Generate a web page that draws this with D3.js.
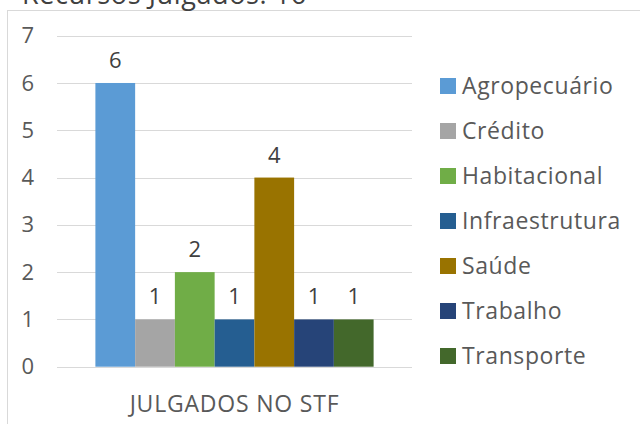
<!DOCTYPE html>
<html>
<head>
<meta charset="utf-8">
<script src="https://cdn.jsdelivr.net/npm/d3@7"></script>
<style>
  html, body { margin: 0; padding: 0; background: #fff; }
  svg { display: block; font-family: "Open Sans", sans-serif; }
</style>
</head>
<body>
<div id="showBox"></div>
<script>
// chart data
const title = "Recursos Julgados: 16"
const categories = ["JULGADOS NO STF"]
const seriesNames = ["Agropecuário", "Crédito", "Habitacional", "Infraestrutura", "Saúde", "Trabalho", "Transporte"]
const seriesValues = [6, 1, 2, 1, 4, 1, 1]
const seriesColors = ["#5b9bd5", "#a5a5a5", "#70ad47", "#255e91", "#997300", "#264478", "#43682b"]
const yTicks = [0, 1, 2, 3, 4, 5, 6, 7]

const width = 640, height = 424
const plot = {left: 57, right: 412, top: 35.7, bottom: 366.7}

const svg = d3.select("#showBox").append("svg")
    .attr("width", width)
    .attr("height", height)

// chart frame
svg.append("rect")
    .attr("x", 7.5).attr("y", 10.5)
    .attr("width", 700).attr("height", 500)
    .attr("fill", "#fff")
    .attr("stroke", "#d9d9d9")

svg.append("text")
    .attr("x", 22).attr("y", 4)
    .attr("fill", "#404040")
    .style("font-size", "27px")
    .style("letter-spacing", "0.6px")
    .text(title)

const y = d3.scaleLinear().domain([0, 7]).range([plot.bottom, plot.top])
const x0 = d3.scaleBand().domain(categories).range([plot.left, plot.right]).paddingOuter(0.138)
const x1 = d3.scaleBand().domain(seriesNames).range([0, x0.bandwidth()])

// grid
svg.append("g").selectAll("line")
    .data(yTicks)
    .join("line")
    .attr("x1", plot.left).attr("x2", plot.right)
    .attr("y1", d => Math.round(y(d)) + 0.5).attr("y2", d => Math.round(y(d)) + 0.5)
    .attr("stroke", "#d9d9d9")

const yAxis = svg.append("g")
    .attr("transform", `translate(${plot.left},0)`)
    .call(d3.axisLeft(y).tickValues(yTicks).tickFormat(d3.format("d")).tickSize(0).tickPadding(23))
yAxis.select(".domain").remove()
yAxis.selectAll("text")
    .attr("fill", "#595959")
    .style("font-size", "22px")
    .style("font-family", "Open Sans, sans-serif")

const xAxis = svg.append("g")
    .attr("transform", `translate(0,${plot.bottom})`)
    .call(d3.axisBottom(x0).tickSize(0).tickPadding(29))
xAxis.select(".domain").remove()
xAxis.selectAll("text")
    .attr("fill", "#595959")
    .style("font-size", "23px")
    .style("letter-spacing", "0.8px")
    .style("font-family", "Open Sans, sans-serif")

const group = svg.append("g")
    .attr("transform", `translate(${x0(categories[0])},0)`)

group.selectAll("rect")
    .data(seriesNames)
    .join("rect")
    .attr("x", d => x1(d))
    .attr("y", (d, i) => y(seriesValues[i]))
    .attr("width", x1.bandwidth())
    .attr("height", (d, i) => y(0) - y(seriesValues[i]))
    .attr("fill", (d, i) => seriesColors[i])

group.selectAll("text")
    .data(seriesNames)
    .join("text")
    .attr("x", d => x1(d) + x1.bandwidth() / 2)
    .attr("y", (d, i) => y(seriesValues[i]) - 15)
    .attr("text-anchor", "middle")
    .attr("fill", "#404040")
    .style("font-size", "22px")
    .text((d, i) => seriesValues[i])

// legend
const legend = svg.append("g").selectAll("g")
    .data(seriesNames)
    .join("g")
    .attr("transform", (d, i) => `translate(440,${86 + i * 45})`)

legend.append("rect")
    .attr("x", 0).attr("y", -8)
    .attr("width", 16).attr("height", 16)
    .attr("fill", (d, i) => seriesColors[i])

legend.append("text")
    .attr("x", 22).attr("y", 0)
    .attr("dy", "0.35em")
    .attr("fill", "#595959")
    .style("font-size", "23px")
    .style("letter-spacing", "0.6px")
    .text(d => d)
</script>
</body>
</html>
